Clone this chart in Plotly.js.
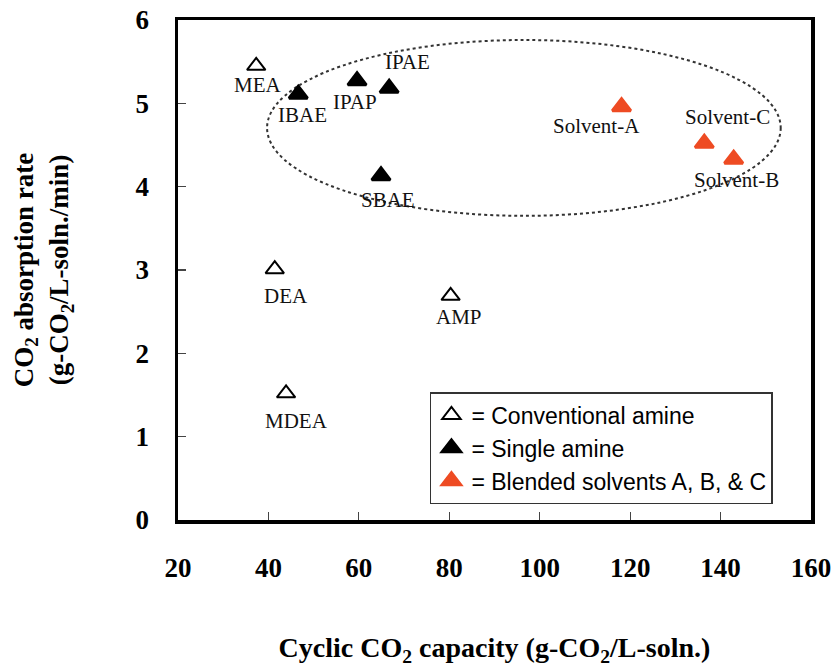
<!DOCTYPE html>
<html><head><meta charset="utf-8">
<script src="https://cdn.plot.ly/plotly-3.0.1.min.js"></script>
<style>html,body{margin:0;padding:0;background:#fff}</style>
</head><body><div id="chart" style="width:835px;height:667px"></div>
<script>
// ---- data ----
const convNames = ['MEA', 'DEA', 'AMP', 'MDEA'];
const convX = [37.3, 41.4, 80.3, 43.9];
const convY = [5.45, 3.01, 2.69, 1.52];

const singleNames = ['IBAE', 'IPAP', 'IPAE', 'SBAE'];
const singleX = [46.6, 59.6, 66.7, 64.9];
const singleY = [5.11, 5.27, 5.18, 4.13];

const blendNames = ['Solvent-A', 'Solvent-C', 'Solvent-B'];
const blendX = [118.1, 136.4, 142.9];
const blendY = [4.96, 4.52, 4.33];

const seriesNames = ['= Conventional amine', '= Single amine', '= Blended solvents A, B, & C'];
const xTickVals = [20, 40, 60, 80, 100, 120, 140, 160];
const yTickVals = [0, 1, 2, 3, 4, 5, 6];
const ellipseXRange = [39.7, 153.3];
const ellipseYRange = [3.65, 5.76];

// ---- styling / label placement (pixel offsets) ----
const labelOffsets = {
  'MEA': [2, -19], 'DEA': [11, -27], 'AMP': [8, -21], 'MDEA': [10, -28],
  'IBAE': [4, -21], 'IPAP': [-2, -21], 'IPAE': [18, 26], 'SBAE': [7, -24],
  'Solvent-A': [-25, -19], 'Solvent-C': [23, 26], 'Solvent-B': [3, -21]
};
const RED = '#EE4B23';
const serif = 'Liberation Serif';
const sans = 'Liberation Sans';

const traces = [
  {x: convX, y: convY, text: convNames, name: seriesNames[0], legendgroup: 'a',
   type: 'scatter', mode: 'markers', hoverinfo: 'text',
   marker: {symbol: 'triangle-up', size: 16, color: '#ffffff', line: {color: '#000000', width: 2}}},
  {x: singleX, y: singleY, text: singleNames, name: seriesNames[1], legendgroup: 'b',
   type: 'scatter', mode: 'markers', hoverinfo: 'text',
   marker: {symbol: 'triangle-up', size: 16, color: '#000000', line: {color: '#000000', width: 3}}},
  {x: blendX, y: blendY, text: blendNames, name: seriesNames[2], legendgroup: 'c',
   type: 'scatter', mode: 'markers', hoverinfo: 'text',
   marker: {symbol: 'triangle-up', size: 16, color: RED, line: {color: RED, width: 3}}}
];

const annotations = [];
function addLabels(names, xs, ys) {
  names.forEach((n, i) => {
    const off = labelOffsets[n] || [0, -20];
    annotations.push({
      x: xs[i], y: ys[i], xref: 'x', yref: 'y', text: n, showarrow: false,
      xanchor: 'center', yanchor: 'middle', xshift: off[0], yshift: off[1],
      font: {family: serif, size: 21, color: '#111111'}
    });
  });
}
addLabels(convNames, convX, convY);
addLabels(singleNames, singleX, singleY);
addLabels(blendNames, blendX, blendY);

const tickFont = {family: serif, size: 27, color: '#000000', weight: 700};

const layout = {
  width: 835, height: 667,
  font: {family: serif, color: '#000000'},
  margin: {l: 178, r: 24, t: 20, b: 147},
  paper_bgcolor: '#ffffff', plot_bgcolor: '#ffffff',
  showlegend: true,
  legend: {
    x: 0.398, y: 0.256, xanchor: 'left', yanchor: 'top',
    bgcolor: '#ffffff', bordercolor: '#333333', borderwidth: 1.5,
    font: {family: sans, size: 23, color: '#000000'},
    tracegroupgap: 0, itemsizing: 'trace'
  },
  xaxis: {
    range: [20, 160], tickmode: 'array', tickvals: xTickVals, ticktext: xTickVals.map(String),
    ticks: 'inside', ticklen: 8, tickwidth: 1.2, tickcolor: '#444444',
    showline: true, linewidth: 3.5, linecolor: '#000000', mirror: true,
    showgrid: false, zeroline: false, ticklabelstandoff: 21,
    tickfont: tickFont,
    title: {text: 'Cyclic CO<sub>2</sub> capacity (g-CO<sub>2</sub>/L-soln.)', standoff: 56,
            font: {family: serif, size: 28, color: '#000000', weight: 700}}
  },
  yaxis: {
    range: [0, 6], tickmode: 'array', tickvals: yTickVals, ticktext: yTickVals.map(String),
    ticks: 'inside', ticklen: 8, tickwidth: 1.2, tickcolor: '#444444',
    showline: true, linewidth: 3.5, linecolor: '#000000', mirror: true,
    showgrid: false, zeroline: false, ticklabelstandoff: 20,
    tickfont: tickFont,
    title: {text: 'CO<sub>2</sub> absorption rate<br>(g-CO<sub>2</sub>/L-soln./min)', standoff: 60,
            font: {family: serif, size: 27, color: '#000000', weight: 700}}
  },
  shapes: [{
    type: 'circle', xref: 'x', yref: 'y',
    x0: ellipseXRange[0], x1: ellipseXRange[1], y0: ellipseYRange[0], y1: ellipseYRange[1],
    line: {color: '#333333', width: 2, dash: 'dot'}, layer: 'below'
  }],
  annotations: annotations
};

Plotly.newPlot('chart', traces, layout, {displayModeBar: false, staticPlot: true});
</script>
</body></html>
